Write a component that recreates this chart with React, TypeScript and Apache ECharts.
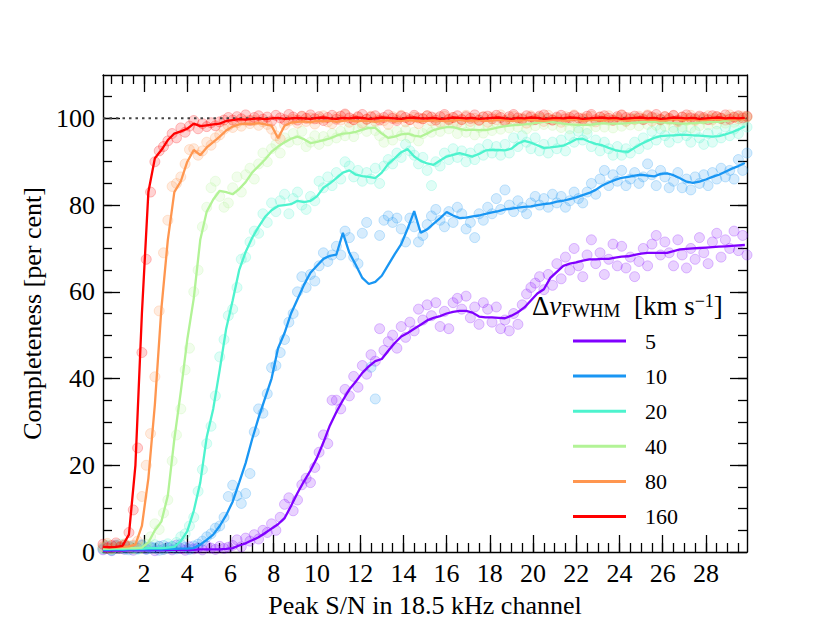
import React, { useEffect, useRef } from "react";
import * as echarts from "echarts";

// x positions of the individual measurements (scatter points)
const X_PTS = [
  0.1, 0.3, 0.5, 0.7, 0.9, 1.1, 1.3, 1.5, 1.7, 1.9,
  2.1, 2.3, 2.5, 2.7, 2.9, 3.1, 3.3, 3.5, 3.7, 3.9,
  4.1, 4.3, 4.5, 4.7, 4.9, 5.1, 5.3, 5.5, 5.7, 5.9,
  6.1, 6.3, 6.5, 6.7, 6.9, 7.1, 7.3, 7.5, 7.7, 7.9,
  8.1, 8.3, 8.5, 8.7, 8.9, 9.1, 9.3, 9.5, 9.7, 9.9,
  10.1, 10.3, 10.5, 10.7, 10.9, 11.1, 11.3, 11.5, 11.7, 11.9,
  12.1, 12.3, 12.5, 12.7, 12.9, 13.1, 13.3, 13.5, 13.7, 13.9,
  14.1, 14.3, 14.5, 14.7, 14.9, 15.1, 15.3, 15.5, 15.7, 15.9,
  16.1, 16.3, 16.5, 16.7, 16.9, 17.1, 17.3, 17.5, 17.7, 17.9,
  18.1, 18.3, 18.5, 18.7, 18.9, 19.1, 19.3, 19.5, 19.7, 19.9,
  20.1, 20.3, 20.5, 20.7, 20.9, 21.1, 21.3, 21.5, 21.7, 21.9,
  22.1, 22.3, 22.5, 22.7, 22.9, 23.1, 23.3, 23.5, 23.7, 23.9,
  24.1, 24.3, 24.5, 24.7, 24.9, 25.1, 25.3, 25.5, 25.7, 25.9,
  26.1, 26.3, 26.5, 26.7, 26.9, 27.1, 27.3, 27.5, 27.7, 27.9,
  28.1, 28.3, 28.5, 28.7, 28.9, 29.1, 29.3, 29.5, 29.7, 29.9,
];

// x positions of the smoothed curves
const X_LINE = [
  0.1, 0.4, 0.7, 1.0, 1.3, 1.6, 1.9, 2.2, 2.5, 2.8,
  3.1, 3.4, 3.7, 4.0, 4.3, 4.6, 4.9, 5.2, 5.5, 5.8,
  6.1, 6.4, 6.7, 7.0, 7.3, 7.6, 7.9, 8.2, 8.5, 8.8,
  9.1, 9.4, 9.7, 10.0, 10.3, 10.6, 10.9, 11.2, 11.5, 11.8,
  12.1, 12.4, 12.7, 13.0, 13.3, 13.6, 13.9, 14.2, 14.5, 14.8,
  15.1, 15.4, 15.7, 16.0, 16.3, 16.6, 16.9, 17.2, 17.5, 17.8,
  18.1, 18.4, 18.7, 19.0, 19.3, 19.6, 19.9, 20.2, 20.5, 20.8,
  21.1, 21.4, 21.7, 22.0, 22.3, 22.6, 22.9, 23.2, 23.5, 23.8,
  24.1, 24.4, 24.7, 25.0, 25.3, 25.6, 25.9, 26.2, 26.5, 26.8,
  27.1, 27.4, 27.7, 28.0, 28.3, 28.6, 28.9, 29.2, 29.5, 29.8,
];

// scatter: completeness per bin (per cent)
const PTS_5 = [
  0.5, 1.1, 0.3, 1.4, 0.8, 0.6, 1.2, 0.4, 0.9, 1.5,
  0.7, 1.0, 0.3, 1.3, 0.6, 1.1, 0.5, 1.6, 0.8, 0.4,
  1.2, 0.7, 1.0, 0.5, 1.4, 0.9, 0.6, 1.3, 0.8, 1.1,
  1.5, 2.8, 1.2, 3.2, 2.5, 4, 3, 5, 4.5, 6.5,
  5, 8, 11, 12.5, 9.5, 12, 15.5, 17, 16, 19.5,
  23, 27, 25, 35, 35, 33, 37.5, 36, 40.5, 38,
  43, 41, 45.5, 44, 51.5, 46.5, 48.5, 50, 47, 52,
  49.5, 53, 51, 56, 53.5, 57, 54.5, 57.5, 52, 55.5,
  51.5, 57.5, 58.5, 56, 59, 54, 56.5, 52.5, 57.5, 56,
  53, 56.5, 51.5, 53.5, 51, 55, 52.5, 57, 59.5, 61,
  62, 63.5, 60.5, 64, 61.5, 66.5, 63, 68, 65, 70,
  66, 63.5, 68.5, 72, 66.5, 69, 64, 67.5, 71, 66,
  70.5, 65.5, 68, 63.5, 67, 70, 66, 71, 73, 68.5,
  71.5, 69, 66, 72, 68.5, 65.5, 70, 67.5, 72.5, 69,
  66.5, 71.5, 73.5, 68, 72, 70, 74, 69.5, 73, 68.5,
];
const PTS_10 = [
  0.7, 1.3, 0.4, 1.6, 0.9, 1.1, 0.5, 1.4, 0.8, 1.7,
  0.6, 1.2, 1.0, 0.4, 1.5, 0.9, 1.3, 0.7, 1.8, 1.1,
  0.6, 1.4, 1.8, 2.5, 3.5, 4.2, 5.5, 6, 8, 12.8,
  15.4, 13, 11.2, 13.5, 18.1, 27.7, 33, 32, 36.5, 42.5,
  43, 46, 49, 53, 55, 60, 63.5, 61, 64, 62.5,
  66, 69, 67, 68.5, 70.5, 68.5, 74, 72.5, 68, 66.5,
  73.5, 76, 42.6, 35.3, 73, 76.5, 77.5, 76, 77, 74.5,
  71.5, 77, 75, 71.5, 73, 75.5, 77.5, 79, 76.5, 75,
  78.5, 76, 79.5, 78, 74.5, 76, 72.5, 78, 76.5, 79.5,
  78, 81.5, 79, 83.5, 80, 78.5, 81, 79.5, 78, 80.5,
  82, 80, 81.5, 79.5, 82.5, 80.5, 82, 79.5, 81, 83,
  81.5, 80.5, 83, 85, 82.5, 86, 88, 84.5, 87, 85.5,
  88, 84.5, 86, 87.5, 85, 86.5, 89.5, 87, 84.5, 88,
  86.5, 84, 85.5, 87.5, 84, 86, 83.5, 86.5, 85, 87,
  84.5, 87.5, 86, 88.5, 86.5, 88, 86, 90.5, 88, 92,
];
const PTS_20 = [
  0.9, 1.6, 0.5, 1.2, 1.8, 0.7, 1.4, 1.0, 0.6, 1.5,
  1.1, 0.8, 1.7, 1.3, 0.6, 1.9, 1.2, 2.2, 3.5, 4.2,
  6, 8, 14, 19, 25, 29, 36, 45, 49, 54.5,
  56, 61, 67.5, 68, 71.5, 74, 73.5, 78, 76, 80.5,
  78.5, 81, 82.5, 78, 81.5, 83, 80, 79, 82, 81,
  85.5, 84, 86.5, 84.5, 87.5, 86, 90, 89, 86.5, 88,
  85.5, 87.5, 86, 88.5, 85, 89, 90.5, 89.5, 92, 91,
  94, 92.5, 91.5, 89.5, 91, 88, 84.5, 90, 89, 92,
  90.5, 93, 91, 92.5, 90, 92, 90.5, 93, 91.5, 94,
  92, 93.5, 91.5, 94, 92, 95.5, 93.5, 96, 94.5, 93,
  95.5, 92.5, 94, 92, 94.5, 93, 95, 92.5, 96, 94.5,
  97, 95, 96.5, 93.5, 95, 92.5, 94.5, 93, 91.5, 93.5,
  91.5, 93, 92, 94.5, 93, 95.5, 94, 97, 95, 97.5,
  96, 94.5, 97, 95.5, 97.5, 96, 94.5, 97, 95.5, 94,
  96.5, 94.5, 97, 95.5, 98, 96, 97.5, 96.5, 99, 98,
];
const PTS_40 = [
  0.8, 1.5, 0.6, 1.2, 0.9, 1.7, 1.1, 0.7, 1.4, 1.0,
  1.8, 3.5, 6.5, 5.2, 9, 12, 21, 27, 33, 42,
  47, 60, 65, 75, 79.5, 84, 85.5, 82, 79.5, 80.5,
  84, 86.5, 83, 87, 88.5, 86, 89.5, 92, 90, 93,
  94, 92, 95.5, 94.5, 96.5, 95, 97, 93.5, 94.5, 96,
  94, 95.8, 94.8, 96.5, 95.5, 97, 96, 97.8, 95.8, 97.5,
  98.3, 97, 98.6, 97.2, 96, 94.5, 96.5, 95, 97, 96,
  97.3, 95.5, 96.8, 94.8, 96.5, 97.5, 96.8, 98.5, 97, 99,
  97.6, 98.8, 96.5, 98.2, 96.8, 98.6, 96.2, 97.9, 96.6, 98.4,
  97.2, 99, 97.5, 99.3, 97.8, 99.5, 98, 99.7, 97.6, 99.4,
  98.3, 100, 98.6, 99.8, 98.4, 99.6, 97.9, 99.3, 97.6, 99.1,
  97.8, 99.4, 97.5, 99.2, 98.1, 99.6, 98, 99.5, 97.8, 99.7,
  98.2, 99.4, 98.5, 99.9, 98.3, 99.8, 98.6, 100, 98.4, 99.7,
  98.2, 99.6, 97.9, 99.4, 98.1, 99.5, 97.8, 99.7, 98.3, 99.8,
  98.5, 100, 98.7, 99.9, 98.9, 100.2, 99.1, 100.4, 99.6, 100.3,
];
const PTS_80 = [
  1.2, 2, 0.8, 1.5, 1.1, 1.9, 1.3, 1.6, 2.5, 12.8,
  20, 27.3, 40.4, 55.6, 69, 76.5, 84.3, 85, 86.5, 89.5,
  92.8, 93, 91.5, 92.5, 94.5, 93.8, 95.5, 96.2, 97.5, 98.3,
  97.9, 99, 98.2, 99.4, 98.8, 99.5, 98.4, 99.2, 98.6, 97.5,
  96, 95.2, 98.5, 99.4, 99.8, 98.9, 100.4, 99.3, 100.1, 98.7,
  99.9, 100.6, 99.2, 98.8, 100.3, 99.6, 100.8, 99.1, 99.7, 100.2,
  98.9, 99.8, 100.5, 99.3, 100, 99.5, 98.6, 100.4, 99.9, 100.7,
  99.2, 99.7, 100.3, 98.8, 99.9, 100.6, 99.4, 100.1, 99, 100.5,
  99.6, 100.2, 98.9, 99.8, 100.7, 99.3, 100, 99.5, 100.4, 99.1,
  100.3, 99.7, 100.8, 99.2, 99.9, 100.5, 99.4, 100.1, 98.9, 100.6,
  99.8, 100.2, 99.3, 100.7, 99.6, 100, 99.1, 100.4, 99.7, 100.8,
  99.4, 100.1, 99.9, 100.5, 99.2, 100.3, 99.8, 100.6, 99.5, 100,
  100.7, 99.3, 100.2, 99.7, 100.5, 99.9, 100.8, 99.4, 100.1, 99.6,
  100.4, 99.8, 100.6, 99.2, 100.3, 100, 100.7, 99.5, 100.2, 99.9,
  100.6, 99.7, 100.4, 100.1, 99.6, 100.8, 100.2, 99.9, 100.5, 100.3,
];
const PTS_160 = [
  1.8, 0.9, 1.5, 2.1, 1.2, 1.6, 4.5, 9.7, 24, 46,
  67.5, 83, 90, 92.5, 93.5, 94.8, 96.5, 95.5, 97.8, 96.8,
  98.2, 99.5, 97.6, 98.8, 98.1, 99, 98.3, 99.2, 99.6, 100.2,
  99.6, 100.4, 99.9, 100.8, 99.5, 100.2, 100.6, 99.8, 100.3, 99.4,
  100.7, 100.1, 99.7, 100.9, 100.3, 99.6, 100.5, 100, 100.8, 99.9,
  100.4, 99.5, 100.2, 100.7, 99.8, 100.5, 101, 100.1, 99.7, 100.4,
  100.9, 99.8, 100.3, 100.6, 99.6, 100.2, 100.8, 100, 99.5, 100.5,
  100.2, 99.7, 100.7, 100.1, 99.9, 100.6, 100.3, 99.6, 100.4, 100.9,
  99.8, 100.2, 100.6, 99.7, 100.4, 100, 100.8, 99.6, 100.3, 100.5,
  99.9, 100.7, 100.2, 99.5, 100.4, 100.9, 100.1, 99.8, 100.6, 100.3,
  99.7, 100.5, 100.8, 100, 99.6, 100.3, 100.7, 99.9, 100.2, 100.6,
  100.1, 99.8, 100.5, 100.9, 99.7, 100.3, 100.6, 100, 99.6, 100.4,
  100.8, 100.2, 99.9, 100.5, 100.1, 99.7, 100.6, 100.3, 100.9, 99.8,
  100.4, 100, 100.7, 99.6, 100.3, 100.8, 100.1, 99.9, 100.5, 100.2,
  99.7, 100.6, 100.4, 100, 100.8, 99.8, 100.3, 100.6, 100.1, 100.5,
];

// smoothed curves (per cent)
const LINE_5 = [
  0.3, 0.3, 0.4, 0.3, 0.4, 0.4, 0.4, 0.4, 0.5, 0.4,
  0.5, 0.5, 0.5, 0.5, 0.5, 0.6, 0.6, 0.6, 0.6, 0.7,
  0.9, 1.5, 2, 2.7, 3.4, 4.4, 5.4, 6.4, 7.8, 10.6,
  13.6, 16.3, 18.8, 21.7, 25.3, 29.2, 32.3, 35, 37.5, 39.3,
  41.3, 42.8, 44, 44.5, 46.4, 48.2, 49.7, 50.5, 51.5, 52.4,
  53.4, 54, 54.4, 55, 55.4, 55.6, 55.6, 55.2, 54.3, 54.1,
  54.1, 54, 53.9, 54.5, 55.3, 56.4, 58, 59.6, 60.6, 63.2,
  64.6, 66, 66.5, 66.8, 67.2, 67.5, 67.5, 67.6, 67.6, 67.9,
  68.1, 68.2, 68.5, 68.8, 69, 69, 69, 69, 69.4, 69.8,
  69.9, 70, 70.1, 70.2, 70.3, 70.4, 70.5, 70.6, 70.7, 70.8,
];
const LINE_10 = [
  0.5, 0.5, 0.6, 0.5, 0.6, 0.6, 0.6, 0.6, 0.7, 0.6,
  0.7, 0.7, 0.8, 0.8, 0.9, 1.7, 2.8, 4, 6, 8.5,
  11.6, 16, 20.5, 26, 31, 35.5, 40, 47, 50.5, 55,
  58.3, 61.6, 64.4, 66, 67.6, 68.3, 68.6, 73.6, 69, 66.2,
  63.2, 61.8, 62.3, 63.7, 66.2, 68.7, 71, 74.6, 78.6, 73.6,
  74.4, 75.7, 77, 78.4, 77.6, 77, 77.1, 77.4, 77.6, 78,
  78.3, 78.6, 79, 79.2, 79.4, 79.6, 79.7, 80, 80.2, 80.4,
  80.8, 81, 81.4, 81.8, 82.3, 82.8, 83.5, 84.5, 85.2, 85.8,
  86.3, 86.5, 86.8, 87, 86.8, 86.6, 87.2, 87.3, 86.9, 86.2,
  85.4, 85.1, 85.4, 85.9, 86.5, 87, 87.7, 88.4, 89, 89.7,
];
const LINE_20 = [
  0.7, 0.7, 0.8, 0.7, 0.8, 0.8, 0.8, 0.9, 0.9, 0.9,
  1.0, 1.2, 2.5, 4.8, 9.5, 16, 26.5, 33, 42, 51.5,
  58, 65, 69.2, 72.4, 75, 77.3, 78.8, 79.8, 80, 80.2,
  81, 80.7, 81, 82, 84, 85, 86.2, 87.5, 88, 87,
  86.7, 86.5, 86.2, 87.5, 89.5, 90.8, 92.2, 92.9, 91.2, 90.2,
  89.6, 89.3, 90.3, 91.2, 91.6, 92, 91.6, 91.2, 91.8, 92.6,
  92.7, 92.7, 92.6, 93, 94.2, 94.8, 94.4, 93.8, 93.2, 93.3,
  93.5, 93.7, 94.4, 95.2, 95.3, 94.6, 94.1, 93.8, 93.2, 92.7,
  92.4, 92.3, 93.2, 94.1, 94.8, 95.5, 95.9, 96, 96.1, 96.2,
  96.2, 96.1, 96, 95.9, 95.8, 95.9, 96.3, 96.8, 97.4, 98.2,
];
const LINE_40 = [
  0.8, 0.8, 0.9, 0.9, 0.9, 0.9, 1.0, 2.2, 5, 7,
  13, 26, 37, 49, 58.5, 72, 78.5, 81.3, 83.3, 83,
  82.5, 83.7, 85.3, 87.5, 89, 90.5, 92.3, 93.5, 94.5, 95.3,
  95.8, 95.2, 94.3, 94.6, 95, 95.4, 96, 96.5, 96.6, 96.9,
  97.4, 97.8, 97.8, 96.5, 95.5, 95.8, 96.3, 96.5, 96, 95.8,
  96.5, 97.3, 97.7, 98, 98, 97.6, 97.3, 97.4, 97.3, 97.3,
  97.6, 97.9, 98.2, 98.4, 98.5, 98.6, 98.8, 99, 99.2, 99.2,
  99, 98.8, 98.6, 98.5, 98.5, 98.5, 98.7, 98.9, 98.8, 98.8,
  98.8, 98.9, 99, 99.1, 99.2, 99.2, 99.1, 99, 98.9, 98.8,
  98.8, 98.9, 99, 99.1, 99.2, 99.2, 99.4, 99.6, 99.8, 100,
];
const LINE_80 = [
  1.1, 1.2, 1.1, 1.2, 1.3, 1.7, 6, 17, 34, 56,
  72, 83, 85.5, 90, 92.7, 91.5, 93.3, 94.5, 95.8, 97.2,
  98.1, 98.6, 98.8, 98.7, 98.9, 98.6, 98.3, 95.4, 98.3, 99,
  99.2, 99.3, 99.1, 99.4, 99.3, 99.5, 99.2, 99.4, 99.6, 99.3,
  99.5, 99.4, 99.2, 99.5, 99.6, 99.3, 99.4, 99.6, 99.5, 99.3,
  99.4, 99.6, 99.5, 99.3, 99.5, 99.7, 99.4, 99.5, 99.6, 99.4,
  99.5, 99.7, 99.6, 99.4, 99.5, 99.6, 99.7, 99.5, 99.4, 99.6,
  99.7, 99.5, 99.6, 99.8, 99.5, 99.6, 99.7, 99.5, 99.6, 99.8,
  99.6, 99.5, 99.7, 99.8, 99.6, 99.7, 99.5, 99.6, 99.8, 99.7,
  99.6, 99.8, 99.7, 99.6, 99.8, 99.7, 99.9, 99.7, 99.8, 99.9,
];
const LINE_160 = [
  1.2, 1.1, 1.2, 1.4, 4, 20, 55, 83, 90.8, 92.7,
  95, 96.5, 97, 97.6, 98.8, 98.2, 98.4, 98.6, 98.8, 99.4,
  99.6, 99.8, 99.7, 99.9, 100, 99.8, 100, 100.1, 99.9, 100,
  100.1, 100, 99.9, 100.1, 100.2, 100, 99.9, 100.1, 100, 100.2,
  100.1, 99.9, 100, 100.2, 100.1, 100, 99.9, 100.1, 100.2, 100,
  100, 100.1, 99.9, 100, 100.2, 100.1, 100, 100.1, 99.9, 100,
  100.1, 100.2, 100, 99.9, 100.1, 100, 100.2, 100.1, 99.9, 100,
  100.1, 100, 100.2, 100.1, 99.9, 100, 100.1, 100.2, 100, 100.1,
  99.9, 100, 100.1, 100.2, 100, 100.1, 99.9, 100, 100.2, 100.1,
  100, 100.1, 99.9, 100, 100.1, 100.2, 100, 100.1, 100, 100.1,
];

const DV_LABELS = ["5", "10", "20", "40", "80", "160"];
const COLORS = ["#8000ff", "#1996f3", "#4df3ce", "#b2f396", "#ff964f", "#ff0000"];
const POINT_SETS = [PTS_5, PTS_10, PTS_20, PTS_40, PTS_80, PTS_160];
const LINE_SETS = [LINE_5, LINE_10, LINE_20, LINE_40, LINE_80, LINE_160];

const X_MAJOR = [2, 4, 6, 8, 10, 12, 14, 16, 18, 20, 22, 24, 26, 28];
const X_MINOR = [
  0.5, 1, 1.5, 2, 2.5, 3, 3.5, 4, 4.5, 5, 5.5, 6, 6.5, 7, 7.5, 8, 8.5, 9, 9.5, 10,
  10.5, 11, 11.5, 12, 12.5, 13, 13.5, 14, 14.5, 15, 15.5, 16, 16.5, 17, 17.5, 18,
  18.5, 19, 19.5, 20, 20.5, 21, 21.5, 22, 22.5, 23, 23.5, 24, 24.5, 25, 25.5, 26,
  26.5, 27, 27.5, 28, 28.5, 29, 29.5,
];
const Y_MAJOR = [0, 20, 40, 60, 80, 100];
const Y_MINOR = [5, 10, 15, 20, 25, 30, 35, 40, 45, 50, 55, 60, 65, 70, 75, 80, 85, 90, 95, 100, 105];
const X_RANGE = [0.1, 29.9];
const Y_RANGE = [0, 110];
const FULL_COMPLETENESS = 100;

const FONT = "Liberation Serif";

function rgba(hex: string, a: number) {
  const n = parseInt(hex.slice(1), 16);
  return `rgba(${(n >> 16) & 255},${(n >> 8) & 255},${n & 255},${a})`;
}

function makeX(position: "top" | "bottom", ticks: number[], len: number, labels: boolean, line: boolean) {
  return {
    type: "value",
    position,
    min: X_RANGE[0],
    max: X_RANGE[1],
    axisLine: { show: line, onZero: false, lineStyle: { color: "#000", width: 1.4 } },
    axisTick: { show: true, inside: true, length: len, customValues: ticks, lineStyle: { color: "#000", width: 1.3 } },
    axisLabel: labels
      ? { show: true, customValues: ticks, color: "#000", fontFamily: FONT, fontSize: 26, margin: 8 }
      : { show: false },
    splitLine: { show: false },
  };
}
function makeY(position: "left" | "right", ticks: number[], len: number, labels: boolean, line: boolean) {
  return {
    type: "value",
    position,
    min: Y_RANGE[0],
    max: Y_RANGE[1],
    axisLine: { show: line, onZero: false, lineStyle: { color: "#000", width: 1.4 } },
    axisTick: { show: true, inside: true, length: len, customValues: ticks, lineStyle: { color: "#000", width: 1.3 } },
    axisLabel: labels
      ? { show: true, customValues: ticks, color: "#000", fontFamily: FONT, fontSize: 26, margin: 8 }
      : { show: false },
    splitLine: { show: false },
  };
}

export default function App() {
  const ref = useRef<HTMLDivElement>(null);
  useEffect(() => {
    if (!ref.current) return;
    const chart = echarts.init(ref.current, null, { renderer: "svg" });
    const series: any[] = [
      {
        type: "line",
        name: "full",
        data: [
          [X_RANGE[0], FULL_COMPLETENESS],
          [X_RANGE[1], FULL_COMPLETENESS],
        ],
        symbol: "none",
        silent: true,
        lineStyle: { color: "#444", width: 2, type: [2.5, 4] },
      },
    ];
    DV_LABELS.forEach((lab, i) => {
      const c = COLORS[i];
      series.push({
        type: "scatter",
        name: lab + " bins",
        data: X_PTS.map((x, j) => [x, POINT_SETS[i][j]]),
        symbol: "circle",
        symbolSize: 10,
        itemStyle: { color: rgba(c, 0.22), borderColor: rgba(c, 0.3), borderWidth: 1 },
        silent: true,
      });
      series.push({
        type: "line",
        name: lab,
        data: X_LINE.map((x, j) => [x, LINE_SETS[i][j]]),
        symbol: "none",
        lineStyle: { color: c, width: 2.3 },
        itemStyle: { color: c },
        silent: true,
      });
    });

    const xAxis = [
      { ...makeX("bottom", X_MAJOR, 17, true, true), name: "Peak S/N in 18.5 kHz channel", nameLocation: "middle", nameGap: 40, nameTextStyle: { fontFamily: FONT, fontSize: 26, color: "#000" } },
      makeX("bottom", X_MINOR, 9, false, false),
      makeX("top", X_MAJOR, 17, false, true),
      makeX("top", X_MINOR, 9, false, false),
    ];
    const yAxis = [
      { ...makeY("left", Y_MAJOR, 17, true, true), name: "Completeness [per cent]", nameLocation: "middle", nameGap: 52, nameTextStyle: { fontFamily: FONT, fontSize: 26, color: "#000" } },
      makeY("left", Y_MINOR, 9, false, false),
      makeY("right", Y_MAJOR, 17, false, true),
      makeY("right", Y_MINOR, 9, false, false),
    ];

    chart.setOption({
      animation: false,
      backgroundColor: "#fff",
      textStyle: { fontFamily: FONT },
      grid: { left: 103, right: 83, top: 75, bottom: 69, containLabel: false },
      xAxis,
      yAxis,
      legend: {
        data: DV_LABELS,
        orient: "vertical",
        left: 573,
        top: 330,
        padding: 0,
        itemGap: 13.1,
        itemWidth: 53,
        itemHeight: 3,
        icon: "rect",
        selectedMode: false,
        textStyle: { fontFamily: FONT, fontSize: 22, lineHeight: 22, color: "#000", padding: [0, 0, 0, 14] },
      },
      graphic: [
        {
          type: "text",
          left: 532,
          top: 292,
          silent: true,
          style: {
            text: "{d|Δ}{v|v}{s|FWHM}{d|  [km s}{p|−1}{d|]}",
            fill: "#000",
            fontFamily: FONT,
            rich: {
              d: { fontFamily: FONT, fontSize: 27, lineHeight: 28, fill: "#000" },
              v: { fontFamily: FONT, fontSize: 27, fontStyle: "italic", lineHeight: 28, fill: "#000" },
              s: { fontFamily: FONT, fontSize: 19, lineHeight: 14, verticalAlign: "bottom", fill: "#000" },
              p: { fontFamily: FONT, fontSize: 18, lineHeight: 14, verticalAlign: "top", fill: "#000" },
            },
          },
        },
      ],
      series,
    });
    return () => chart.dispose();
  }, []);
  return <div ref={ref} style={{ position: "fixed", left: 0, top: 0, width: 830, height: 623 }} />;
}
